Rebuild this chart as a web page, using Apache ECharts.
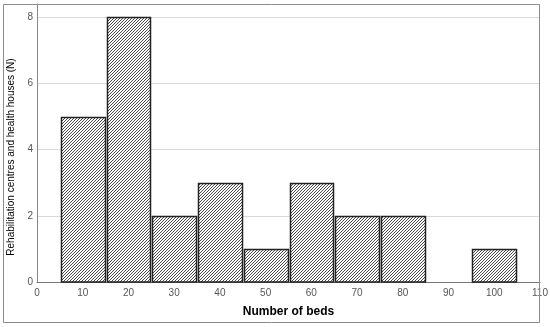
<!DOCTYPE html>
<html><head><meta charset="utf-8">
<script src="https://cdn.jsdelivr.net/npm/echarts@6/dist/echarts.min.js"></script>
<style>html,body{margin:0;padding:0;background:#fff}#c{width:550px;height:327px}</style>
</head><body><div id="c"></div>
<script>
var binCenters = [10, 20, 30, 40, 50, 60, 70, 80, 90, 100];
var counts = [5, 8, 2, 3, 1, 3, 2, 2, 0, 1];
var binWidth = 10;
var xTicks = [0, 10, 20, 30, 40, 50, 60, 70, 80, 90, 100, 110];
var yTicks = [0, 2, 4, 6, 8];

var pc = document.createElement('canvas');
pc.width = 3; pc.height = 3;
var g = pc.getContext('2d');
g.fillStyle = '#fff'; g.fillRect(0, 0, 3, 3);
g.fillStyle = '#4a4a4a';
g.fillRect(2, 0, 1, 1); g.fillRect(1, 1, 1, 1); g.fillRect(0, 2, 1, 1);

var chart = echarts.init(document.getElementById('c'), null, {renderer: 'canvas'});
var data = binCenters.map(function (c, i) { return [c, counts[i]]; });
chart.setOption({
  animation: false,
  backgroundColor: '#fff',
  graphic: [{type: 'rect', shape: {x: 3.5, y: 4.5, width: 536, height: 318}, style: {fill: 'none', stroke: '#8c8c8c', lineWidth: 1}, z: 100}],
  grid: {left: 37, right: 10, top: 4, bottom: 45, outerBoundsMode: 'none', containLabel: false},
  xAxis: {
    type: 'value', min: 0, max: 110, interval: 10,
    name: 'Number of beds', nameLocation: 'middle', nameGap: 24,
    nameTextStyle: {fontFamily: 'Liberation Sans', fontSize: 12, color: '#000', fontWeight: 'bold'},
    axisLine: {show: true, lineStyle: {color: '#777', width: 1}},
    axisTick: {show: false},
    axisLabel: {fontFamily: 'Liberation Sans', fontSize: 10, color: '#555', margin: 6,
      formatter: function (v) { return xTicks.indexOf(v) >= 0 ? String(v) : ''; }},
    splitLine: {show: false}
  },
  yAxis: {
    type: 'value', min: 0, max: 8.4, interval: 2,
    name: 'Rehabilitation centres and health houses (N)', nameLocation: 'middle', nameGap: 18,
    nameTextStyle: {fontFamily: 'Liberation Sans', fontSize: 10, color: '#000', padding: [0, 28, 0, 0]},
    axisLine: {show: true, lineStyle: {color: '#888', width: 1}},
    axisTick: {show: false},
    axisLabel: {fontFamily: 'Liberation Sans', fontSize: 10, color: '#555', margin: 4, showMaxLabel: false,
      formatter: function (v) { return yTicks.indexOf(v) >= 0 ? String(v) : ''; }},
    splitLine: {show: true, lineStyle: {color: '#d9d9d9', width: 1}}
  },
  series: [{
    type: 'custom',
    data: data,
    renderItem: function (params, api) {
      var c = api.value(0), v = api.value(1);
      if (!v) return null;
      var p0 = api.coord([c - binWidth / 2, v]);
      var p1 = api.coord([c + binWidth / 2, 0]);
      var x0 = Math.round(p0[0]) + 1.5, x1 = Math.round(p1[0]) - 0.5;
      var y0 = Math.round(p0[1]) + 0.5, y1 = Math.round(p1[1]);
      return {
        type: 'rect',
        shape: {x: x0, y: y0, width: x1 - x0, height: y1 - y0},
        style: {fill: {image: pc, repeat: 'repeat'}, stroke: '#222', lineWidth: 1.5}
      };
    }
  }]
});
</script></body></html>
